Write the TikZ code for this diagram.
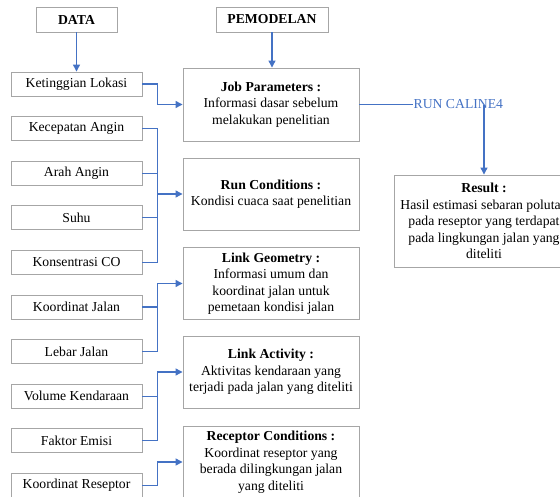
\documentclass[tikz,border=0pt]{standalone}
\usepackage{fontspec}
\setmainfont{Liberation Serif}
\usepackage{xcolor}
\definecolor{linkblue}{RGB}{68,114,196}
\definecolor{boxgray}{RGB}{166,166,166}
\usetikzlibrary{arrows.meta}

\begin{document}
\begin{tikzpicture}[x=1pt,y=-1pt,
  every node/.style={font=\fontsize{13.7}{16.5}\selectfont},
  box/.style={draw=boxgray,line width=0.9pt,align=center,inner sep=0pt},
  databox/.style={box,minimum width=131pt,minimum height=24pt},
  headbox/.style={box,minimum height=25pt,font=\fontsize{13.7}{16.5}\selectfont\bfseries},
  modelbox/.style={box,minimum width=176pt,minimum height=72pt},
  conn/.style={draw=linkblue,line width=1.2pt},
  feed/.style={conn,-{Triangle[length=7pt,width=7pt]}}]
 \useasboundingbox (0,0) rectangle (560,496);
 \clip (0,0) rectangle (560,496);
 % headers
 \node[headbox,minimum width=81pt] (data) at (76.5,19.5) {DATA};
 \node[headbox,minimum width=112pt] (model) at (272,19.5) {PEMODELAN};
 % data boxes
 \foreach \txt [count=\i] in {Ketinggian Lokasi,Kecepatan Angin,Arah Angin,Suhu,
   Konsentrasi CO,Koordinat Jalan,Lebar Jalan,Volume Kendaraan,Faktor Emisi,
   Koordinat Reseptor}
   \node[databox] (d\i) at (76.5,{39.4+44.6*\i}) {\txt};
 % model boxes
 \node[modelbox,minimum height=73pt] (job) at (271,104.5)
   {\textbf{Job Parameters :}\\Informasi dasar sebelum\\melakukan penelitian};
 \node[modelbox] (run) at (271,194)
   {\textbf{Run Conditions :}\\Kondisi cuaca saat penelitian};
 \node[modelbox] (geo) at (271,283.5)
   {\textbf{Link Geometry :}\\Informasi umum dan\\koordinat jalan untuk\\pemetaan kondisi jalan};
 \node[modelbox] (act) at (271,372)
   {\textbf{Link Activity :}\\Aktivitas kendaraan yang\\terjadi pada jalan yang diteliti};
 \node[modelbox] (rec) at (271,462)
   {\textbf{Receptor Conditions :}\\Koordinat reseptor yang\\berada dilingkungan jalan\\yang diteliti};
 \node[box,minimum width=180pt,minimum height=92pt] (res) at (484,221)
   {\textbf{Result :}\\Hasil estimasi sebaran polutan\\pada reseptor yang terdapat\\pada lingkungan jalan yang\\diteliti};
 \node[text=linkblue,inner sep=0pt,anchor=west,xshift=54pt] (caline) at (job.east) {RUN CALINE4};
 % connectors
 \draw[feed] (data) -- (d1);
 \draw[feed] (model.south) -- (model.south |- job.north);
 \draw[feed] (d1.east) -- ++(15,0) |- (job.west);
 \draw[conn] (d2.east) -- ++(15,0) coordinate (b1) |- (d5.east);
 \foreach \i in {3,4} \draw[conn] (d\i.east) -- (d\i.east -| b1);
 \draw[feed] (b1 |- run.west) -- (run.west);
 \draw[conn] (d6.east) -- ++(15,0);
 \draw[feed] (d7.east) -- ++(15,0) |- (geo.west);
 \draw[conn] (d8.east) -- ++(15,0);
 \draw[feed] (d9.east) -- ++(15,0) |- (act.west);
 \draw[feed] (d10.east) -- ++(15,0) |- (rec.west);
 \draw[conn] (job.east) -- (caline.west);
 \draw[feed] ([yshift=4pt]caline.south -| res.north) -- (res.north);
\end{tikzpicture}
\end{document}
